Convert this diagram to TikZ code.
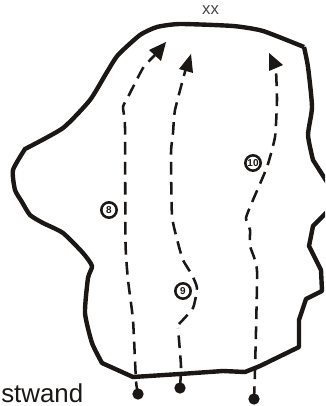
\documentclass[tikz,border=0pt]{standalone}
\usepackage{fontspec}
\setmainfont{Liberation Sans}
\definecolor{ink}{HTML}{1A1714}
\tikzset{
 wall/.style={draw=ink,line width=3.3pt,line join=round},
 route/.style={draw=ink,line width=1.9pt,dash pattern=on 9.5pt off 5.5pt},
 head/.style={fill=ink,draw=none},
 pin/.style={circle,fill=ink,draw=none,inner sep=0pt,minimum size=8.5pt},
 badge/.style={circle,draw=ink,line width=1.9pt,fill=white,inner sep=0pt,minimum size=11.5pt,font=\fontsize{7.5}{8}\selectfont\bfseries,text=ink}
}
\begin{document}
\begin{tikzpicture}[x=0.75pt,y=-0.75pt]
\useasboundingbox (0,0) rectangle (325,406);
\clip (0,0) rectangle (325,406);
\node[font=\fontsize{12.5}{13}\selectfont,text=ink!80] (top) at (210.5,10) {xx};
\node[anchor=base east,font=\fontsize{19.4}{20}\selectfont,text=ink,inner sep=0pt] (wand) at (83.5,402.5) {stwand};
\draw[wall] plot[smooth,tension=.35] coordinates {(304,47) (263,31) (233,26) (180,24) (157,27) (140,35) (118,55) (107,72) (90,100) (63,128) (25,149)}
 -- plot[smooth,tension=.35] coordinates {(25,149) (13,170) (15,190) (22,202) (30,215) (43,223) (63,233) (83,253) (92,266) (88,278) (85,313) (92,343) (102,363)}
 -- (133,377) -- (180,374) -- (223,371) -- (245,372) -- (260,366) -- (299,347) -- (299,320) -- (306,299) -- (322,291) -- (321,270) -- (309,246) -- (313,226) -- (327,212)
 (327,182) -- (313,160) -- plot[smooth,tension=.35] coordinates {(313,160) (308,135) (312,107) (308,67) (304,47)};
\node[pin] (d8) at (138,394) {};
\node[pin] (d9) at (180,388) {};
\node[pin] (d10) at (254,399) {};
\coordinate (t8) at (155,55);
\coordinate (t9) at (186,68);
\coordinate (t10) at (276,70);
\draw[route] plot[smooth,tension=.3] coordinates {(d8) (136,381) (133,320) (128,280) (125.5,243) (125,127) (123,107) (128,97) (143,68) (t8)};
\draw[route] plot[smooth,tension=.3] coordinates {(d9) (181,366) (178,328)};
\draw[route] plot[smooth,tension=.3] coordinates {(179,324) (193,308) (197,288) (192,275) (183,260) (178,243) (172,216) (171,153) (173,133) (175,110) (t9)};
\draw[route] plot[smooth,tension=.3] coordinates {(d10) (255,370) (257,271) (250,246) (250,230) (246,218) (253,200) (267,167) (275,137) (277,100) (t10)};
\fill[head] (166,42) -- (149,50) -- (161,61) -- cycle;
\fill[head] (191,54) -- (179,69) -- (193,73) -- cycle;
\fill[head] (269,53) -- (269,71) -- (283,65) -- cycle;
\node[badge] (n8) at (109,210) {8};
\node[badge] (n9) at (183,291) {9};
\node[badge] (n10) at (253,163) {10};
\end{tikzpicture}
\end{document}
